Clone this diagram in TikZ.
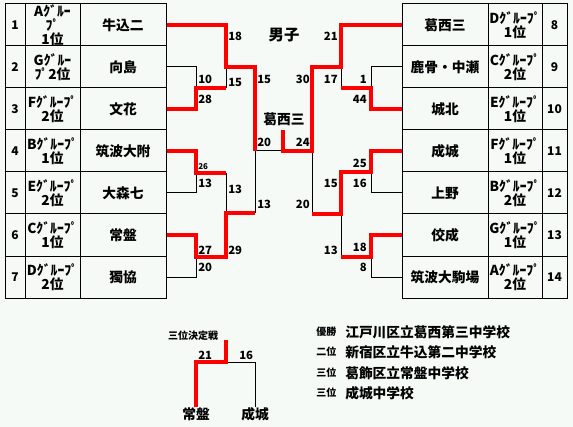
\documentclass[tikz,border=0pt]{standalone}
\usepackage{fontspec}
\setmainfont{Noto Sans CJK JP}
\usepackage{tikz}
\usetikzlibrary{positioning}
\definecolor{bgmint}{HTML}{F5FAF7}
\definecolor{winred}{HTML}{FF0000}
\tikzset{
  cell/.style={draw=black,line width=0.75pt,minimum height=31.5pt,inner sep=0pt,align=center},
  numcell/.style={cell,minimum width=15pt,font=\bfseries\fontsize{9}{10}\selectfont},
  rnumcell/.style={numcell,minimum width=18.75pt},
  grpcell/.style={cell,minimum width=41.25pt,font=\bfseries\fontsize{10.3}{10.4}\selectfont},
  rgrpcell/.style={grpcell,minimum width=40.5pt},
  teamcell/.style={cell,minimum width=64.5pt,font=\bfseries\fontsize{10.3}{12}\selectfont},
  winedge/.style={winred,line width=3pt},
  loseedge/.style={black,line width=0.75pt},
  lscore/.style={anchor=west,inner sep=0pt,font=\bfseries\fontsize{8.5}{9}\selectfont},
  rscore/.style={lscore,anchor=east},
  plaintext/.style={inner sep=0pt,font=\bfseries\fontsize{10.3}{12}\selectfont},
  smalltext/.style={inner sep=0pt,font=\bfseries\fontsize{7.5}{8}\selectfont},
}

\begin{document}
\begin{tikzpicture}[x=0.75pt,y=-0.75pt]
  \useasboundingbox (0,0) rectangle (573,427);
  \fill[bgmint] (0,0) rectangle (573,427);
  % left table
  \node[numcell] (n1) at (15,25) {1};
  \node[numcell] (n2) at (15,67) {2};
  \node[numcell] (n3) at (15,109) {3};
  \node[numcell] (n4) at (15,151) {4};
  \node[numcell] (n5) at (15,193) {5};
  \node[numcell] (n6) at (15,235) {6};
  \node[numcell] (n7) at (15,277) {7};
  \node[grpcell] (g1) at (52.5,25) {Aｸﾞﾙｰ\\ﾌﾟ\\1位};
  \node[grpcell] (g2) at (52.5,67) {Gｸﾞﾙｰ\\ﾌﾟ2位};
  \node[grpcell] (g3) at (52.5,109) {Fｸﾞﾙｰﾌﾟ\\2位};
  \node[grpcell] (g4) at (52.5,151) {Bｸﾞﾙｰﾌﾟ\\1位};
  \node[grpcell] (g5) at (52.5,193) {Eｸﾞﾙｰﾌﾟ\\2位};
  \node[grpcell] (g6) at (52.5,235) {Cｸﾞﾙｰﾌﾟ\\1位};
  \node[grpcell] (g7) at (52.5,277) {Dｸﾞﾙｰﾌﾟ\\2位};
  \node[teamcell] (s1) at (123,25) {牛込二};
  \node[teamcell] (s2) at (123,67) {向島};
  \node[teamcell] (s3) at (123,109) {文花};
  \node[teamcell] (s4) at (123,151) {筑波大附};
  \node[teamcell] (s5) at (123,193) {大森七};
  \node[teamcell] (s6) at (123,235) {常盤};
  \node[teamcell] (s7) at (123,277) {獨協};
  % right table
  \node[teamcell] (s8) at (445,25) {葛西三};
  \node[teamcell] (s9) at (445,67) {鹿骨・中瀬};
  \node[teamcell] (s10) at (445,109) {城北};
  \node[teamcell] (s11) at (445,151) {成城};
  \node[teamcell] (s12) at (445,193) {上野};
  \node[teamcell] (s13) at (445,235) {佼成};
  \node[teamcell] (s14) at (445,277) {筑波大駒場};
  \node[rgrpcell] (g8) at (515,25) {Dｸﾞﾙｰﾌﾟ\\1位};
  \node[rgrpcell] (g9) at (515,67) {Cｸﾞﾙｰﾌﾟ\\2位};
  \node[rgrpcell] (g10) at (515,109) {Eｸﾞﾙｰﾌﾟ\\1位};
  \node[rgrpcell] (g11) at (515,151) {Fｸﾞﾙｰﾌﾟ\\1位};
  \node[rgrpcell] (g12) at (515,193) {Bｸﾞﾙｰﾌﾟ\\2位};
  \node[rgrpcell] (g13) at (515,235) {Gｸﾞﾙｰﾌﾟ\\1位};
  \node[rgrpcell] (g14) at (515,277) {Aｸﾞﾙｰﾌﾟ\\2位};
  \node[rnumcell] (n8) at (554.5,25) {8};
  \node[rnumcell] (n9) at (554.5,67) {9};
  \node[rnumcell] (n10) at (554.5,109) {10};
  \node[rnumcell] (n11) at (554.5,151) {11};
  \node[rnumcell] (n12) at (554.5,193) {12};
  \node[rnumcell] (n13) at (554.5,235) {13};
  \node[rnumcell] (n14) at (554.5,277) {14};
  % match points
  \coordinate (mA) at (196,88);
  \coordinate (mB) at (196,173);
  \coordinate (mC) at (196,257);
  \coordinate (mD) at (226,67);
  \coordinate (mE) at (226,213);
  \coordinate (mF) at (255,151);
  \coordinate (mG) at (371,88);
  \coordinate (mH) at (371,172);
  \coordinate (mI) at (371,257);
  \coordinate (mJ) at (341,67);
  \coordinate (mK) at (341,214);
  \coordinate (mL) at (312,151);
  \coordinate (fin) at (283,151);
  \coordinate (champ) at (283,130);
  % left bracket
  \draw[loseedge] (s2.east) -| (mA);
  \draw[loseedge] (mA -| mD) -- (mD);
  \draw[loseedge] (s5.east) -| (mB);
  \draw[loseedge] (mB -| mE) -- (mE);
  \draw[loseedge] (s7.east) -| (mC);
  \draw[loseedge] (mE -| mF) -- (mF);
  \draw[loseedge] (mF) -- (fin);
  \draw[winedge] (s3.east) -| (mA) -- (mA -| mD);
  \draw[winedge] (s1.east) -| (mD) -| (mF);
  \draw[winedge] (s4.east) -| (mB) -- (mB -| mE);
  \draw[winedge] (s6.east) -| (mC) -| (mE) -- (mE -| mF);
  % right bracket
  \draw[loseedge] (s9.west) -| (mG);
  \draw[loseedge] (mG -| mJ) -- (mJ);
  \draw[loseedge] (s12.west) -| (mH);
  \draw[loseedge] (s14.west) -| (mI);
  \draw[loseedge] (mI -| mK) -- (mK);
  \draw[loseedge] (mK -| mL) -- (mL);
  \draw[winedge] (s10.west) -| (mG) -- (mG -| mJ);
  \draw[winedge] (s13.west) -| (mI) -- (mI -| mK);
  \draw[winedge] (s11.west) -| (mH) -| (mK) -- (mK -| mL);
  \draw[winedge] (s8.west) -| (mJ) -| (mL) -- (fin) -- (champ);
  % scores
  \node[lscore] (c1) at (228,36) {18};
  \node[lscore] (c2) at (198,79) {10};
  \node[lscore] (c3) at (228,82) {15};
  \node[lscore] (c4) at (198,99) {28};
  \node[lscore] (c5) at (257,79) {15};
  \node[lscore] (c6) at (257,142) {20};
  \node[lscore,font=\bfseries\fontsize{6}{6}\selectfont] (c7) at (198,167) {26};
  \node[lscore] (c8) at (198,183) {13};
  \node[lscore] (c9) at (228,189) {13};
  \node[lscore] (c10) at (257,204) {13};
  \node[lscore] (c11) at (198,250) {27};
  \node[lscore] (c12) at (228,250) {29};
  \node[lscore] (c13) at (198,267) {20};
  \node[rscore] (c14) at (338,36) {21};
  \node[rscore] (c15) at (310,79) {30};
  \node[rscore] (c16) at (338,79) {17};
  \node[rscore] (c17) at (367,79) {1};
  \node[rscore] (c18) at (367,99) {44};
  \node[rscore] (c19) at (310,142) {24};
  \node[rscore] (c20) at (367,163) {25};
  \node[rscore] (c21) at (338,183) {15};
  \node[rscore] (c22) at (367,183) {16};
  \node[rscore] (c23) at (310,204) {20};
  \node[rscore] (c24) at (367,247) {18};
  \node[rscore] (c25) at (338,250) {13};
  \node[rscore] (c26) at (367,267) {8};
  % title and champion
  \node[plaintext,font=\bfseries\fontsize{11.5}{12}\selectfont] (ttl) at (284,35) {男子};
  \node[plaintext] (win) at (284,119) {葛西三};
  % third place
  \node[smalltext] (t3) at (193,336) {三位決定戦};
  \node[plaintext] (p1) at (196,414) {常盤};
  \node[plaintext] (p2) at (255,414) {成城};
  \coordinate (m3) at (226,362);
  \coordinate (top3) at (226,340);
  \draw[loseedge] (p2.north) |- (m3);
  \draw[winedge] (p1.north) |- (m3) -- (top3);
  \node[lscore] (c27) at (198,355) {21};
  \node[lscore] (c28) at (239,355) {16};
  % results
  \node[smalltext,anchor=west] (rk1) at (316,332) {優勝};
  \node[smalltext,anchor=west] (rk2) at (316,352) {二位};
  \node[smalltext,anchor=west] (rk3) at (316,373) {三位};
  \node[smalltext,anchor=west] (rk4) at (316,393) {三位};
  \node[plaintext,anchor=west] (rs1) at (345,332) {江戸川区立葛西第三中学校};
  \node[plaintext,anchor=west] (rs2) at (345,352) {新宿区立牛込第二中学校};
  \node[plaintext,anchor=west] (rs3) at (345,373) {葛飾区立常盤中学校};
  \node[plaintext,anchor=west] (rs4) at (345,393) {成城中学校};
\end{tikzpicture}
\end{document}
